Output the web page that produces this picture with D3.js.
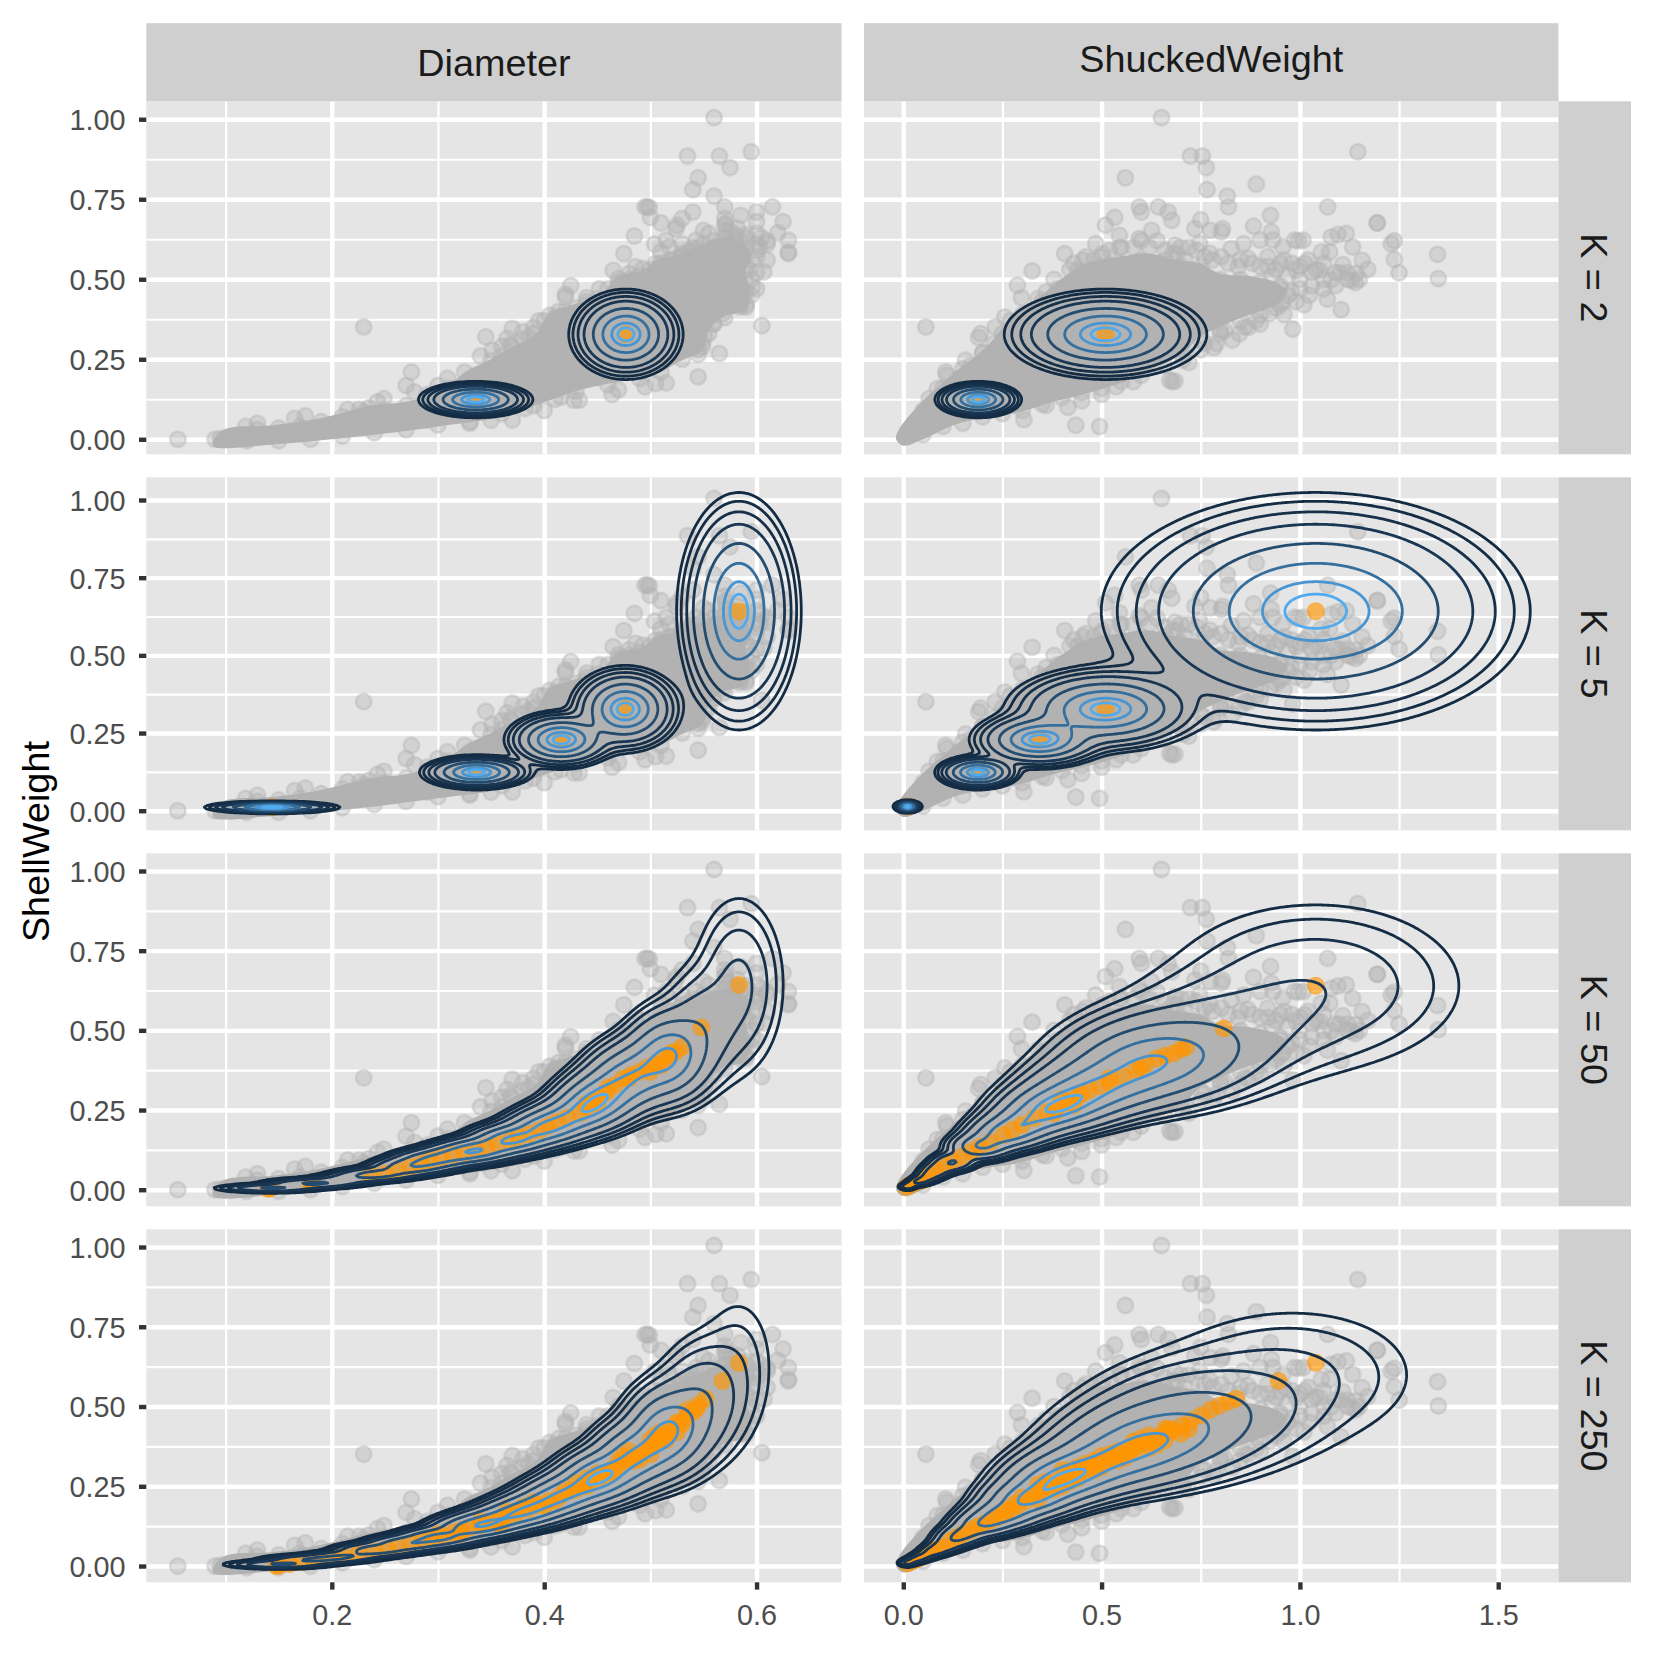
<!DOCTYPE html>
<html>
<head>
<meta charset="utf-8">
<script src="https://cdn.jsdelivr.net/npm/d3@7"></script>
<style>
body { margin: 0; background: #fff; }
text { font-family: "Liberation Sans", Arial, sans-serif; }
</style>
</head>
<body>
<svg id="chart" width="1653" height="1653"></svg>
<script>
var columns = ['Diameter', 'ShuckedWeight'];
var rowLabels = ['K = 2', 'K = 5', 'K = 50', 'K = 250'];
var shellTicks = [0, 0.25, 0.5, 0.75, 1];
var shellMinor = [0.125, 0.375, 0.625, 0.875];
var diameterTicks = [0.2, 0.4, 0.6];
var diameterMinor = [0.1, 0.3, 0.5];
var shuckedTicks = [0, 0.5, 1, 1.5];
var shuckedMinor = [0.25, 0.75, 1.25];

var diameterPoints = [[.56,1.005],[.535,.885],[.565,.885],[.595,.898],[.575,.849],[.545,.817],[.54,.78],[.56,.76],[.57,.726],[.615,.726],[.585,.7],[.6,.71],[.625,.68],[.495,.726],[.499,.724],[.497,.726],[.5,.693],[.51,.676],[.53,.69],[.525,.669],[.524,.658],[.54,.71],[.55,.653],[.57,.69],[.571,.653],[.6,.68],[.485,.635],[.475,.58],[.465,.528],[.504,.61],[.515,.622],[.53,.61],[.51,.585],[.528,.57],[.62,.645],[.63,.622],[.63,.585],[.63,.58],[.61,.61],[.607,.523],[.59,.413],[.584,.413],[.605,.355],[.565,.268],[.545,.265],[.545,.195],[.515,.176],[.505,.174],[.495,.164],[.47,.155],[.464,.14],[.433,.122],[.428,.122],[.416,.132],[.382,.096],[.425,.48],[.42,.453],[.44,.443],[.42,.445],[.405,.387],[.414,.4],[.37,.346],[.38,.336],[.345,.32],[.365,.315],[.351,.278],[.368,.295],[.549,.3],[.551,.32],[.518,.601],[.53,.57],[.543,.622],[.555,.643],[.571,.674],[.571,.632],[.6,.643],[.603,.601],[.6,.57],[.593,.528],[.596,.476],[.587,.445],[.58,.424],[.568,.393],[.559,.361],[.549,.289],[.524,.278],[.493,.533],[.48,.518],[.47,.502],[.505,.549],[.486,.539],[.518,.559],[.582,.66],[.578,.61],[.59,.6],[.56,.6],[.54,.585],[.452,.47],[.44,.42],[.395,.37],[.39,.35],[.385,.32],[.36,.29],[.34,.26],[.275,.21],[.27,.168],[.278,.148],[.3,.168],[.309,.19],[.325,.21],[.335,.2],[.29,.14],[.249,.127],[.243,.117],[.226,.093],[.215,.093],[.235,.098],[.175,.073],[.165,.065],[.13,.05],[.119,.04],[.055,0],[.09,0],[.095,.002],[.1,.003],[.23,.351],[.31,.1],[.29,.06],[.35,.06],[.33,.05],[.4,.09],[.37,.06],
[.35,.245],[.36,.26],[.37,.29],[.38,.31],[.39,.33],[.4,.37],[.41,.38],[.42,.4],[.43,.41],[.44,.43],[.45,.44],[.46,.47],[.47,.49],[.48,.5],[.49,.51],[.5,.53],[.51,.55],[.52,.56],[.53,.58],[.54,.6],[.55,.61],[.56,.62],[.57,.63],[.58,.63],[.59,.63],[.6,.61],[.6,.59],[.595,.56],[.59,.53],[.595,.5],[.59,.46],[.585,.42],[.57,.38],[.56,.36],[.555,.33],[.545,.28],[.53,.25],[.51,.21],[.49,.19],[.46,.17],[.43,.15],[.41,.125],[.39,.105],[.36,.08],[.33,.055],[.3,.045],[.27,.03],[.24,.02],[.21,.01],[.18,.0],[.15,-.005],[.12,-.005],[.105,.0],[.13,.03],[.15,.035],[.17,.04],[.19,.055],[.21,.07],[.23,.085],[.25,.09],[.27,.105],[.29,.125],[.31,.16],[.33,.19],[.57,.67],[.575,.65],[.58,.64],[.585,.62],[.59,.64],[.605,.63],[.61,.62],[.61,.56],[.6,.52],[.595,.45],[.59,.42],[.6,.47],[.562,.6],[.545,.6],[.535,.585],[.57,.6],[.58,.59]];
var shuckedPoints = [[.057,.351],[.56,.817],[.595,.726],[.6,.71],[.533,.693],[.51,.669],[.545,.637],[.595,.627],[.485,.611],[.407,.58],[.325,.526],[.38,.5],[.288,.481],[.298,.442],[.256,.382],[.232,.351],[.19,.318],[.195,.33],[.157,.247],[.107,.21],[.11,.2],[.086,.158],[.065,.127],[.304,.061],[.435,.044],[.495,.04],[.415,.1],[.36,.106],[.537,.164],[.453,.56],[.43,.55],[.503,.58],[.545,.6],[.56,.53],[.651,1.005],[1.146,.898],[.724,.885],[.754,.885],[.764,.849],[.89,.797],[.766,.78],[.817,.76],[.82,.726],[.643,.726],[.668,.71],[.677,.684],[.75,.686],[1.07,.726],[.926,.7],[1.195,.676],[1.195,.676],[.883,.666],[.735,.658],[.774,.653],[.805,.658],[.802,.648],[.626,.653],[.928,.648],[.9,.622],[.932,.622],[1.117,.643],[1.096,.64],[1.079,.632],[1.133,.601],[1.238,.62],[1.23,.611],[1.238,.562],[1.25,.52],[1.347,.578],[1.349,.502],[.987,.622],[1.008,.622],[.996,.62],[.957,.601],[1.054,.585],[1.075,.585],[1.108,.546],[1.157,.559],[1.171,.531],[1.142,.518],[1.13,.497],[1.079,.499],[1.05,.528],[1.012,.549],[.991,.528],[1.024,.45],[1.069,.438],[1.104,.405],[.982,.344],[.924,.393],[.957,.429],[.951,.549],[.919,.57],[.844,.539],[.869,.565],[.858,.611],[.827,.596],[.802,.57],[.773,.581],[.685,.606],[.747,.611],[.783,.286],[.848,.33],[.81,.34],[.861,.351],[.685,.182],[.672,.184],[.678,.18],[.705,.247],[1.03,.52],[1.06,.5],[1.09,.52],[1.12,.52],[1.15,.5],[1.14,.49],[1.0,.5],[.97,.51],[.93,.51],[.9,.54],[.95,.47],[.98,.46],[.62,.55],[.66,.56],[.71,.56],[.69,.58],[.6,.56],[.34,.44],[.36,.46],[.39,.47],[.27,.37],[.23,.3],[.2,.27],[.17,.23],[.14,.19],[.1,.14],[.08,.11],[.05,.08],[.4,.13],[.45,.12],[.5,.14],[.58,.18],[.7,.27],[.76,.3],[.8,.33],[.89,.37],[.94,.41],
[.05,.09],[.1,.16],[.15,.22],[.2,.27],[.25,.33],[.3,.39],[.35,.43],[.4,.47],[.45,.52],[.5,.54],[.55,.55],[.6,.55],[.65,.55],[.7,.54],[.75,.54],[.8,.5],[.85,.5],[.9,.49],[.95,.48],[.97,.45],[.95,.42],[.9,.39],[.85,.37],[.8,.34],[.75,.31],[.71,.27],[.66,.23],[.6,.2],[.55,.18],[.5,.16],[.45,.145],[.35,.11],[.3,.09],[.25,.08],[.2,.07],[.15,.05],[.1,.04],[.05,.015],[.42,.53],[.44,.53],[.46,.57],[.48,.56],[.5,.57],[.52,.59],[.55,.6],[.58,.6],[.6,.62],[.62,.6],[.64,.62],[.66,.59],[.68,.58],[.7,.6],[.72,.6],[.74,.59],[.76,.57],[.78,.56],[.82,.55],[.85,.56],[.88,.55],[.92,.54],[.94,.53],[.96,.56],[.98,.55],[1.0,.54],[1.02,.56],[1.04,.53],[1.06,.55],[1.1,.52],[1.12,.5],[1.0,.47],[1.03,.48],[1.06,.47],[1.09,.48],[.99,.43],[1.01,.42],[.93,.44],[.96,.39],[.9,.36],[.87,.35],[.83,.31],[.79,.3],[.75,.28],[.72,.24]];

// solid core of the cloud, where the points pile up
var diameterCore = [[.088,-.02],[.097,.028],[.144,.044],[.18,.06],[.207,.08],[.238,.106],[.27,.117],[.3,.15],[.329,.216],[.348,.247],[.37,.289],[.392,.33],[.405,.393],[.43,.424],[.455,.455],[.468,.507],[.493,.528],[.505,.559],[.524,.575],[.543,.6],[.562,.625],[.578,.63],[.592,.6],[.595,.56],[.59,.528],[.594,.455],[.588,.403],[.568,.382],[.555,.34],[.549,.278],[.53,.247],[.505,.205],[.461,.174],[.433,.153],[.392,.106],[.361,.07],[.3,.04],[.25,.018],[.2,0],[.15,-.015]];
var shuckedCore = [[-.018,.0],[-.012,.028],[.042,.111],[.126,.205],[.21,.289],[.26,.361],[.344,.445],[.394,.497],[.461,.549],[.545,.57],[.62,.58],[.689,.56],[.748,.55],[.798,.518],[.873,.51],[.94,.49],[.965,.465],[.955,.434],[.907,.403],[.857,.382],[.798,.351],[.748,.32],[.706,.268],[.622,.216],[.545,.174],[.461,.143],[.378,.117],[.294,.085],[.193,.065],[.126,.044],[.05,.0],[.0,-.02]];

// cluster centres per K, the third number is the height of the density ridge there
var k2Diameter = [[.3355,.124,1],[.477,.328,1]];
var k2Shucked = [[.189,.124,1],[.51,.328,1]];
var k5Diameter = [[.1438,.011,1],[.3364,.1236,1],[.416,.2285,1],[.4763,.327,1],[.5834,.642,1]];
var k5Shucked = [[.011,.0135,1],[.188,.1236,1],[.342,.2285,1],[.51,.327,1],[1.04,.642,1]];
var k50Diameter = [[.125,.002,.15],[.142,.005,.3],[.182,.02,.3],[.21,.033,.2],[.236,.046,.35],[.252,.052,.35],[.274,.072,.5],[.2925,.093,.62],[.314,.109,.7],[.3366,.1245,.8],[.368,.156,.84],[.396,.187,.85],[.412,.213,.87],[.434,.24,.9],[.4466,.275,.97],[.4586,.306,.9],[.474,.348,.8],[.49,.37,.8],[.504,.395,.82],[.518,.42,.85],[.53,.448,.6],[.548,.509,.28],[.5835,.6426,.145]];
var k50Shucked = [[.01,.01,.1],[.017,.015,.1],[.03,.022,.12],[.05,.03,.15],[.068,.045,.17],[.084,.062,.2],[.105,.075,.24],[.127,.088,.28],[.1935,.135,.55],[.252,.1716,.7],[.299,.203,.78],[.363,.245,.92],[.416,.276,.97],[.469,.313,.88],[.522,.334,.84],[.586,.3756,.84],[.639,.412,.8],[.681,.428,.72],[.718,.447,.5],[.808,.506,.27],[1.04,.64,.118]];
var k250Diameter = [[.13,.002,.15],[.15,.005,.3],[.18,.02,.3],[.21,.03,.3],[.24,.05,.4],[.27,.07,.5],[.3,.09,.6],[.33,.12,.72],[.35,.14,.8],[.375,.165,.82],[.395,.19,.83],[.415,.22,.84],[.435,.252,.88],[.4546,.284,.97],[.482,.341,.84],[.502,.384,.85],[.514,.42,.88],[.526,.446,.75],[.5338,.467,.55],[.5435,.493,.42],[.552,.5245,.3],[.568,.58,.14],[.5834,.637,.07]];
var k250Shucked = [[.01,.01,.15],[.03,.02,.15],[.05,.03,.15],[.075,.045,.17],[.1,.06,.2],[.125,.08,.27],[.15,.1,.35],[.2,.13,.55],[.25,.16,.7],[.31,.205,.85],[.363,.248,.93],[.416,.284,.97],[.469,.305,.9],[.5325,.337,.86],[.586,.374,.85],[.639,.4,.82],[.7025,.44,.6],[.75,.472,.5],[.798,.5035,.33],[.84,.5245,.25],[.9465,.58,.12],[1.04,.637,.066]];

// orange markers for the larger K
var k50DiameterMarks = [[.14,.003],[.142,.005],[.18,.018],[.182,.02],[.236,.046],[.25,.05],[.262,.06],[.274,.072],[.284,.08],[.2925,.093],[.303,.1],[.314,.109],[.325,.116],[.3366,.1245],[.346,.135],[.356,.145],[.368,.156],[.376,.166],[.386,.175],[.396,.187],[.404,.2],[.412,.213],[.422,.226],[.434,.24],[.44,.258],[.4466,.275],[.452,.29],[.4586,.306],[.466,.327],[.474,.348],[.482,.36],[.49,.37],[.497,.383],[.504,.395],[.511,.408],[.518,.42],[.524,.432],[.53,.448],[.548,.509],[.5835,.6426],[.44,.27],[.45,.27],[.46,.32],[.48,.35],[.5,.37],[.51,.39],[.52,.43]];
var k50ShuckedMarks = [[.008,.008],[.017,.015],[.03,.022],[.05,.03],[.068,.045],[.084,.062],[.105,.075],[.127,.088],[.15,.105],[.172,.12],[.1935,.135],[.22,.15],[.252,.1716],[.275,.188],[.299,.203],[.33,.225],[.363,.245],[.39,.26],[.416,.276],[.44,.295],[.469,.313],[.495,.325],[.522,.334],[.555,.355],[.586,.3756],[.612,.395],[.639,.412],[.66,.42],[.681,.428],[.7,.44],[.713,.447],[.808,.506],[1.04,.64],[.4,.285],[.43,.265],[.45,.3],[.38,.24],[.52,.35],[.6,.38]];
var k250DiameterMarks = [[.148,0],[.15,.002],[.16,.006],[.172,.012],[.185,.018],[.2,.025],[.212,.03],[.225,.038],[.24,.045],[.252,.052],[.263,.06],[.275,.07],[.285,.08],[.295,.087],[.305,.095],[.315,.105],[.322,.112],[.33,.12],[.34,.128],[.35,.14],[.36,.15],[.368,.158],[.375,.167],[.385,.178],[.395,.19],[.404,.203],[.415,.22],[.425,.236],[.435,.252],[.442,.262],[.45,.275],[.4546,.284],[.462,.3],[.47,.315],[.476,.33],[.482,.341],[.49,.352],[.496,.368],[.502,.384],[.508,.396],[.514,.41],[.52,.425],[.526,.446],[.5338,.467],[.54,.482],[.5435,.493],[.552,.5245],[.568,.58],[.5834,.637],[.44,.25],[.46,.285],[.43,.26],[.47,.33],[.49,.335],[.5,.37],[.515,.395],[.51,.42],[.42,.235],[.38,.185],[.4,.19],[.365,.17],[.355,.135],[.45,.29],[.48,.36],[.505,.41],[.5,.395],[.525,.42],[.3,.1],[.32,.1],[.34,.14],[.36,.135],[.39,.2],[.41,.205],[.43,.24],[.44,.275],[.465,.295],[.475,.345],[.485,.33],[.5,.35],[.525,.45],[.53,.445],[.535,.49],[.545,.505]];
var k250ShuckedMarks = [[.01,.008],[.02,.014],[.035,.022],[.05,.03],[.07,.043],[.085,.052],[.1,.06],[.12,.08],[.135,.09],[.15,.1],[.17,.112],[.185,.122],[.2,.13],[.22,.143],[.235,.152],[.25,.16],[.27,.176],[.29,.19],[.31,.205],[.33,.22],[.345,.235],[.363,.248],[.38,.26],[.4,.27],[.416,.284],[.435,.29],[.45,.298],[.469,.305],[.485,.318],[.51,.325],[.5325,.337],[.55,.35],[.57,.362],[.586,.374],[.61,.385],[.625,.393],[.639,.4],[.66,.415],[.68,.425],[.7025,.44],[.725,.455],[.75,.472],[.775,.49],[.798,.5035],[.82,.515],[.84,.5245],[.9465,.58],[1.04,.637],[.36,.265],[.4,.25],[.44,.275],[.48,.33],[.52,.35],[.56,.34],[.6,.4],[.64,.38],[.67,.43],[.72,.43],[.34,.255],[.38,.24],[.42,.3],[.42,.265],[.46,.32],[.5,.31],[.54,.33],[.58,.355],[.62,.37],[.66,.395],[.7,.415],[.3,.215],[.26,.175],[.4,.3],[.44,.31],[.48,.3],[.5,.345],[.54,.36],[.58,.39],[.62,.41],[.66,.43],[.34,.21],[.28,.195]];

var contourLevels = [0.018, 0.032, 0.06, 0.116, 0.27, 0.52, 0.78, 0.92];

var panels = [
  [k2Diameter, k2Shucked, null, null],
  [k5Diameter, k5Shucked, null, null],
  [k50Diameter, k50Shucked, k50DiameterMarks, k50ShuckedMarks],
  [k250Diameter, k250Shucked, k250DiameterMarks, k250ShuckedMarks]
];

var svg = d3.select('#chart');

var colLeft = [146.3, 864];
var colRight = [841.5, 1558.5];
var rowTop = [101.3, 477.3, 853.3, 1229.3];
var panelH = 353;

var xDomains = [[0.0253, 0.680], [-0.099, 1.652]];
var yDomains = [[-0.047, 1.056], [-0.063, 1.073], [-0.052, 1.0555], [-0.051, 1.0555]];

var levelColor = d3.scaleLinear().domain([0.018, 0.96]).range(['#132B43', '#56B1F7']).interpolate(d3.interpolateLab);

// kernel width depends only on where the centre sits
var sigmaX = function(col, x){
  if(col == 0){
    if(x < 0.2){ return 0.0225; }
    return x > 0.55 ? 0.0207 : 0.019;
  }
  return 0.0115 + 0.1365*x + 0.0345*x*x;
};
var sigmaY = function(y){
  return 0.006 + 0.11*y + 0.22*y*y*y;
};

var kernel = function(c, px, py){
  var dx = (px - c.x)/c.sx;
  var dy = (py - c.y)/c.sy;
  return Math.exp(-0.5*(dx*dx + dy*dy));
};

var buildMixture = function(col, centres){
  var comps = centres.map(function(c){
    return {x: c[0], y: c[1], h: c[2], w: c[2], sx: sigmaX(col, c[0]), sy: sigmaY(c[1])};
  });
  // solve the weights so the ridge hits the read heights
  for(var it=0; it<60; it++){
    var next = comps.map(function(c){
      var f = 0;
      comps.forEach(function(o){ f += o.w*kernel(o, c.x, c.y); });
      return c.w*c.h/f;
    });
    comps.forEach(function(c, i){ c.w = next[i]; });
  }
  return comps;
};

var drawAxisGrid = function(g, x, y, w, h, col){
  var majorX = col == 0 ? diameterTicks : shuckedTicks;
  var minorX = col == 0 ? diameterMinor : shuckedMinor;
  var grids = [
    {axis: d3.axisLeft(y).tickValues(shellMinor).tickSize(-w), lw: 2.2},
    {axis: d3.axisBottom(x).tickValues(minorX).tickSize(-h), lw: 2.2, bottom: true},
    {axis: d3.axisLeft(y).tickValues(shellTicks).tickSize(-w), lw: 4.4},
    {axis: d3.axisBottom(x).tickValues(majorX).tickSize(-h), lw: 4.4, bottom: true}
  ];
  grids.forEach(function(d){
    var a = g.append('g')
      .attr('class', 'grid')
      .call(d.axis.tickFormat(''));
    if(d.bottom){
      a.attr('transform', 'translate(0,' + y.range()[0] + ')');
    } else {
      a.attr('transform', 'translate(' + x.range()[0] + ',0)');
    }
    a.select('.domain').remove();
    a.selectAll('line').attr('stroke', '#fff').attr('stroke-width', d.lw);
  });
};

rowLabels.forEach(function(label, r){
  var top = rowTop[r];
  var bottom = top + panelH;
  var y = d3.scaleLinear().domain(yDomains[r]).range([bottom, top]);

  columns.forEach(function(colName, c){
    var left = colLeft[c], right = colRight[c];
    var x = d3.scaleLinear().domain(xDomains[c]).range([left, right]);
    var g = svg.append('g');
    var clipId = 'clip' + r + '_' + c;

    svg.append('clipPath').attr('id', clipId).append('rect')
      .attr('x', left).attr('y', top).attr('width', right-left).attr('height', panelH);

    g.append('rect')
      .attr('x', left).attr('y', top).attr('width', right-left).attr('height', panelH)
      .attr('fill', '#e5e5e5');

    drawAxisGrid(g, x, y, right-left, panelH, c);

    var inner = g.append('g').attr('clip-path', 'url(#' + clipId + ')');
    var pts = c == 0 ? diameterPoints : shuckedPoints;
    var core = c == 0 ? diameterCore : shuckedCore;

    inner.append('path')
      .attr('d', d3.line().curve(d3.curveCatmullRomClosed)
        .x(function(d){ return x(d[0]); })
        .y(function(d){ return y(d[1]); })(core))
      .attr('fill', '#b2b2b2');

    inner.selectAll('circle.obs').data(pts).enter().append('circle')
      .attr('class', 'obs')
      .attr('cx', function(d){ return x(d[0]); })
      .attr('cy', function(d){ return y(d[1]); })
      .attr('r', 7.8)
      .attr('fill', '#b2b2b2').attr('fill-opacity', 0.38)
      .attr('stroke', '#b2b2b2').attr('stroke-opacity', 0.38).attr('stroke-width', 2.6);

    var centres = panels[r][c];
    var marks = panels[r][c+2] || centres;
    inner.selectAll('circle.centre').data(marks).enter().append('circle')
      .attr('class', 'centre')
      .attr('cx', function(d){ return x(d[0]); })
      .attr('cy', function(d){ return y(d[1]); })
      .attr('r', 9)
      .attr('fill', '#ff9500').attr('fill-opacity', 0.65);

    // density on a grid, then d3.contours
    var comps = buildMixture(c, centres);
    var step = 1.5;
    var nx = Math.ceil((right-left)/step), ny = Math.ceil(panelH/step);
    var gx = d3.scaleLinear().domain([0, nx]).range(xDomains[c]);
    var gy = d3.scaleLinear().domain([0, ny]).range([yDomains[r][1], yDomains[r][0]]);
    var values = new Float64Array(nx*ny);
    comps.forEach(function(o){
      for(var j=0; j<ny; j++){
        var py = gy(j+0.5);
        var dy = (py - o.y)/o.sy;
        if(Math.abs(dy) > 6){ continue; }
        for(var i=0; i<nx; i++){
          var dx = (gx(i+0.5) - o.x)/o.sx;
          if(Math.abs(dx) > 6){ continue; }
          values[j*nx+i] += o.w*Math.exp(-0.5*(dx*dx + dy*dy));
        }
      }
    });
    var contours = d3.contours().size([nx, ny]).thresholds(contourLevels)(values);
    var ringLine = d3.line()
      .x(function(d){ return x(gx(d[0])); })
      .y(function(d){ return y(gy(d[1])); });
    contours.forEach(function(level, li){
      var dstr = '';
      level.coordinates.forEach(function(poly){
        poly.forEach(function(ring){ dstr += ringLine(ring) + 'Z'; });
      });
      inner.append('path')
        .attr('d', dstr)
        .attr('fill', 'none')
        .attr('stroke', levelColor(contourLevels[li]))
        .attr('stroke-width', 2.8)
        .attr('stroke-linejoin', 'round');
    });

    if(c == 0){
      var ya = g.append('g')
        .attr('class', 'ytick')
        .attr('transform', 'translate(' + left + ',0)')
        .call(d3.axisLeft(y).tickValues(shellTicks).tickFormat(d3.format('.2f')).tickSize(7.3).tickPadding(13.4));
      ya.select('.domain').remove();
      ya.selectAll('line').attr('stroke', '#333').attr('stroke-width', 4.4);
      ya.selectAll('text').attr('fill', '#4d4d4d').attr('dy', '0.36em').style('font-size', '28.8px').style('font-family', '"Liberation Sans"');
    }
    if(r == 3){
      var xa = g.append('g')
        .attr('transform', 'translate(0,' + bottom + ')')
        .call(d3.axisBottom(x).tickValues(c == 0 ? diameterTicks : shuckedTicks).tickFormat(d3.format('.1f')).tickSize(7.3).tickPadding(15));
      xa.select('.domain').remove();
      xa.selectAll('line').attr('stroke', '#333').attr('stroke-width', 4.4);
      xa.selectAll('text').attr('fill', '#4d4d4d').style('font-size', '28.8px').style('font-family', '"Liberation Sans"');
    }
  });

  // right strip
  svg.append('rect')
    .attr('x', colRight[1]).attr('y', top).attr('width', 72.5).attr('height', panelH)
    .attr('fill', '#cfcfcf');
  svg.append('text')
    .attr('transform', 'translate(' + (colRight[1]+36) + ',' + (top+panelH/2) + ') rotate(90)')
    .attr('text-anchor', 'middle')
    .attr('dy', '0.35em')
    .attr('fill', '#1a1a1a')
    .style('font-size', '37.8px')
    .text(label);
});

// top strips
columns.forEach(function(colName, c){
  svg.append('rect')
    .attr('x', colLeft[c]).attr('y', 23.2).attr('width', colRight[c]-colLeft[c]).attr('height', 78.1)
    .attr('fill', '#cfcfcf');
  svg.append('text')
    .attr('x', (colLeft[c]+colRight[c])/2)
    .attr('y', c == 0 ? 75.5 : 71.5)
    .attr('text-anchor', 'middle')
    .attr('fill', '#1a1a1a')
    .style('font-size', '37.8px')
    .text(colName);
});

svg.append('text')
  .attr('transform', 'translate(36,841.6) rotate(-90)')
  .attr('text-anchor', 'middle')
  .attr('dy', '0.35em')
  .attr('fill', '#000')
  .style('font-size', '37.8px')
  .text('ShellWeight');
</script>
</body>
</html>
